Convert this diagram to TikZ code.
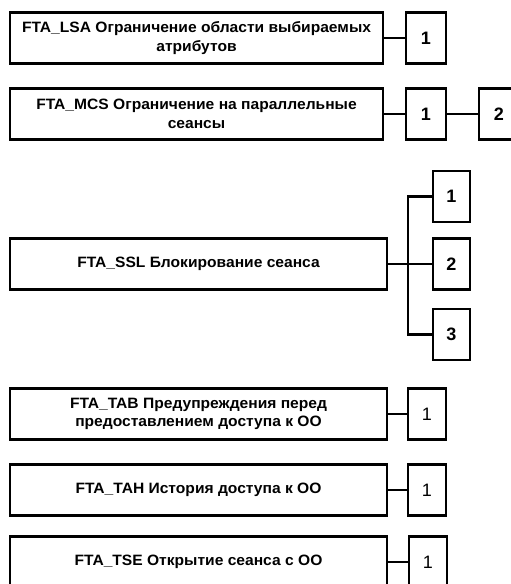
\documentclass[tikz,border=0pt]{standalone}
\usepackage{fontspec}
\setmainfont{Liberation Sans}
\newfontfamily\boxfont[FakeStretch=1.04]{Liberation Sans}
\usetikzlibrary{positioning}
\tikzset{
  compbox/.style={rectangle, draw, line width=2.8pt, inner sep=2pt,
                  minimum height=51pt, align=center,
                  font=\boxfont\fontsize{15}{18.5}\selectfont\bfseries},
  numbox/.style={rectangle, draw, line width=2.8pt, inner sep=0pt,
                 minimum height=51pt, font=\fontsize{18}{18}\selectfont\bfseries},
  link/.style={line width=2.8pt},
}
\begin{document}
\begin{tikzpicture}[x=1pt,y=-1pt]
  \useasboundingbox (0,0) rectangle (511,584);
  \begin{scope}
  \clip (0,0) rectangle (511,584);

  % FTA_LSA
  \node[compbox, minimum width=373pt] (lsa) at (196.5,38)
    {FTA\_LSA Ограничение области выбираемых\\атрибутов};
  \node[numbox, minimum width=40pt] (lsa1) at (426,38) {1};
  \draw[link] (lsa) -- (lsa1);

  % FTA_MCS
  \node[compbox, minimum width=373pt] (mcs) at (196.5,114)
    {FTA\_MCS Ограничение на параллельные\\сеансы};
  \node[numbox, minimum width=40pt] (mcs1) at (426,114) {1};
  \node[numbox, minimum width=40pt] (mcs2) at (499,114) {2};
  \draw[link] (mcs) -- (mcs1);
  \draw[link] (mcs1) -- (mcs2);

  % FTA_SSL
  \node[compbox, minimum width=377pt] (ssl) at (198.5,264)
    {FTA\_SSL Блокирование сеанса};
  \node[numbox, minimum width=37pt] (ssl1) at (451.5,196.5) {1};
  \node[numbox, minimum width=37pt] (ssl2) at (451.5,264) {2};
  \node[numbox, minimum width=37pt] (ssl3) at (451.5,334.5) {3};
  \coordinate (fork) at (408,264);
  \draw[link] (ssl) -- (ssl2);
  \draw[link] (ssl1.west) -| (fork) |- (ssl3.west);

  % FTA_TAB
  \node[compbox, minimum width=377pt] (tab) at (198.5,414)
    {FTA\_TAB Предупреждения перед\\предоставлением доступа к ОО};
  \node[numbox, minimum width=38pt, font=\fontsize{18}{18}\selectfont] (tab1) at (427,414) {1};
  \draw[link] (tab) -- (tab1);

  % FTA_TAH
  \node[compbox, minimum width=377pt] (tah) at (198.5,490)
    {FTA\_TAH История доступа к ОО};
  \node[numbox, minimum width=38pt, font=\fontsize{18}{18}\selectfont] (tah1) at (427,490) {1};
  \draw[link] (tah) -- (tah1);

  % FTA_TSE
  \node[compbox, minimum width=377pt] (tse) at (198.5,562)
    {FTA\_TSE Открытие сеанса с ОО};
  \node[numbox, minimum width=38pt, font=\fontsize{18}{18}\selectfont] (tse1) at (428,562) {1};
  \draw[link] (tse) -- (tse1);
  \end{scope}
\end{tikzpicture}
\end{document}
